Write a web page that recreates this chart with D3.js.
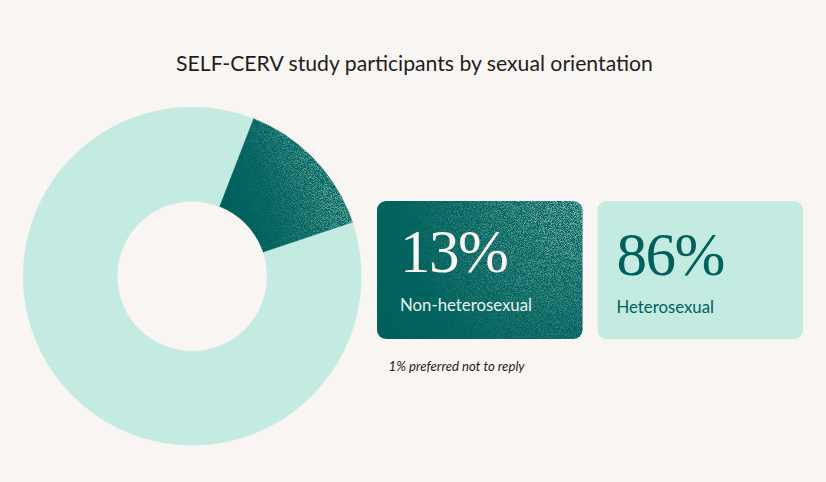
<!DOCTYPE html>
<html><head><meta charset="utf-8">
<script src="https://cdn.jsdelivr.net/npm/d3@7"></script>
<style>
html,body{margin:0;padding:0;background:#f9f5f2;}
svg{display:block;}
</style></head>
<body>
<svg id="chart" width="826" height="482"></svg>
<script>
const title = "SELF-CERV study participants by sexual orientation";
const categories = ["Non-heterosexual", "Preferred not to reply", "Heterosexual"];
const values = [13, 1, 86];
const sliceColors = ["#00605b", "#00605b", "#c3ebe1"];
const cardCategories = ["Non-heterosexual", "Heterosexual"];
const cardValues = [13, 86];
const footnote = "1% preferred not to reply";

const svg = d3.select("#chart");
const W = 826, H = 482;
svg.append("rect").attr("width", W).attr("height", H).attr("fill", "#f9f5f2");

const defs = svg.append("defs");
const f = defs.append("filter").attr("id", "grain").attr("x", 0).attr("y", 0).attr("width", 1).attr("height", 1)
  .attr("filterUnits", "objectBoundingBox").attr("primitiveUnits", "userSpaceOnUse");
f.append("feTurbulence").attr("type", "fractalNoise").attr("baseFrequency", 1.3).attr("numOctaves", 2).attr("seed", 7).attr("result", "n");
f.append("feColorMatrix").attr("in", "n").attr("type", "matrix")
  .attr("values", "0 0 0 0 0.42  0 0 0 0 0.70  0 0 0 0 0.66  2.6 0 0 0 -0.95").attr("result", "specks");
f.append("feComposite").attr("in", "specks").attr("in2", "SourceGraphic").attr("operator", "in");

const cx = 192.2, cy = 276.2, rOuter = 169, rInner = 75;

const g1 = defs.append("linearGradient").attr("id", "sliceGrad").attr("gradientUnits", "userSpaceOnUse")
  .attr("x1", 240 - cx).attr("y1", 225 - cy).attr("x2", 352 - cx).attr("y2", 185 - cy);
g1.append("stop").attr("offset", 0).attr("stop-color", "#fff").attr("stop-opacity", 0);
g1.append("stop").attr("offset", 0.3).attr("stop-color", "#fff").attr("stop-opacity", 0.15);
g1.append("stop").attr("offset", 1).attr("stop-color", "#fff").attr("stop-opacity", 0.9);

const g2 = defs.append("radialGradient").attr("id", "cardGrad").attr("gradientUnits", "userSpaceOnUse")
  .attr("cx", 583).attr("cy", 201).attr("r", 240);
g2.append("stop").attr("offset", 0).attr("stop-color", "#fff").attr("stop-opacity", 0.95);
g2.append("stop").attr("offset", 0.4).attr("stop-color", "#fff").attr("stop-opacity", 0.45);
g2.append("stop").attr("offset", 0.75).attr("stop-color", "#fff").attr("stop-opacity", 0.06);
g2.append("stop").attr("offset", 1).attr("stop-color", "#fff").attr("stop-opacity", 0);

// title
svg.append("text").attr("x", 414.5).attr("y", 71).attr("text-anchor", "middle")
  .attr("font-family", "Lato, 'Noto Sans', sans-serif").attr("font-size", 21.2)
  .attr("fill", "#1e1e1e").text(title);

// donut
const start = 21.15 * Math.PI / 180;
const pie = d3.pie().sort(null).value(d => d).startAngle(start).endAngle(start + 2 * Math.PI);
const arcs = pie(values);
const arc = d3.arc().innerRadius(rInner).outerRadius(rOuter);
const dg = svg.append("g").attr("transform", `translate(${cx},${cy})`);
dg.selectAll("path.slice").data(arcs).join("path").attr("class", "slice")
  .attr("d", arc).attr("fill", (d, i) => sliceColors[i]).attr("stroke", (d, i) => sliceColors[i]).attr("stroke-width", 0.5);
const darkArc = { startAngle: arcs[0].startAngle, endAngle: arcs[1].endAngle };
dg.append("g").attr("filter", "url(#grain)")
  .append("path").attr("d", arc(darkArc)).attr("fill", "url(#sliceGrad)");

// cards
const cardX = d3.scaleBand().domain(cardCategories).range([377, 803]).paddingInner(0.068);
const cardY = 201, cardH = 138;
const cardFill = ["#00605b", "#c3ebe1"];
const numColor = ["#f9f5f2", "#00605b"];
const labColor = ["#e8f3ef", "#00605b"];
const dy = [0, 2.5];
const dx = [23, 19];
cardCategories.forEach((c, i) => {
  const x = cardX(c), w = cardX.bandwidth();
  svg.append("rect").attr("x", x).attr("y", cardY).attr("width", w).attr("height", cardH)
    .attr("rx", 9).attr("fill", cardFill[i]);
  if (i === 0) {
    svg.append("g").attr("filter", "url(#grain)")
      .append("rect").attr("x", x).attr("y", cardY).attr("width", w).attr("height", cardH)
      .attr("rx", 9).attr("fill", "url(#cardGrad)");
  }
  svg.append("text").attr("x", x + dx[i]).attr("y", 272 + dy[i])
    .attr("font-family", "'Liberation Serif', 'DejaVu Serif', serif").attr("font-size", 61)
    .attr("letter-spacing", -1.5)
    .attr("fill", numColor[i]).text(cardValues[i] + "%");
  svg.append("text").attr("x", x + dx[i]).attr("y", 310.5 + dy[i])
    .attr("font-family", "Lato, 'Noto Sans', sans-serif").attr("font-size", 16.8)
    .attr("fill", labColor[i]).text(c);
});

svg.append("text").attr("x", 388.5).attr("y", 371).attr("font-family", "Lato, 'Noto Sans', sans-serif")
  .attr("font-style", "italic").attr("font-size", 13.2).attr("fill", "#1e1e1e").text(footnote);
</script>
</body></html>
